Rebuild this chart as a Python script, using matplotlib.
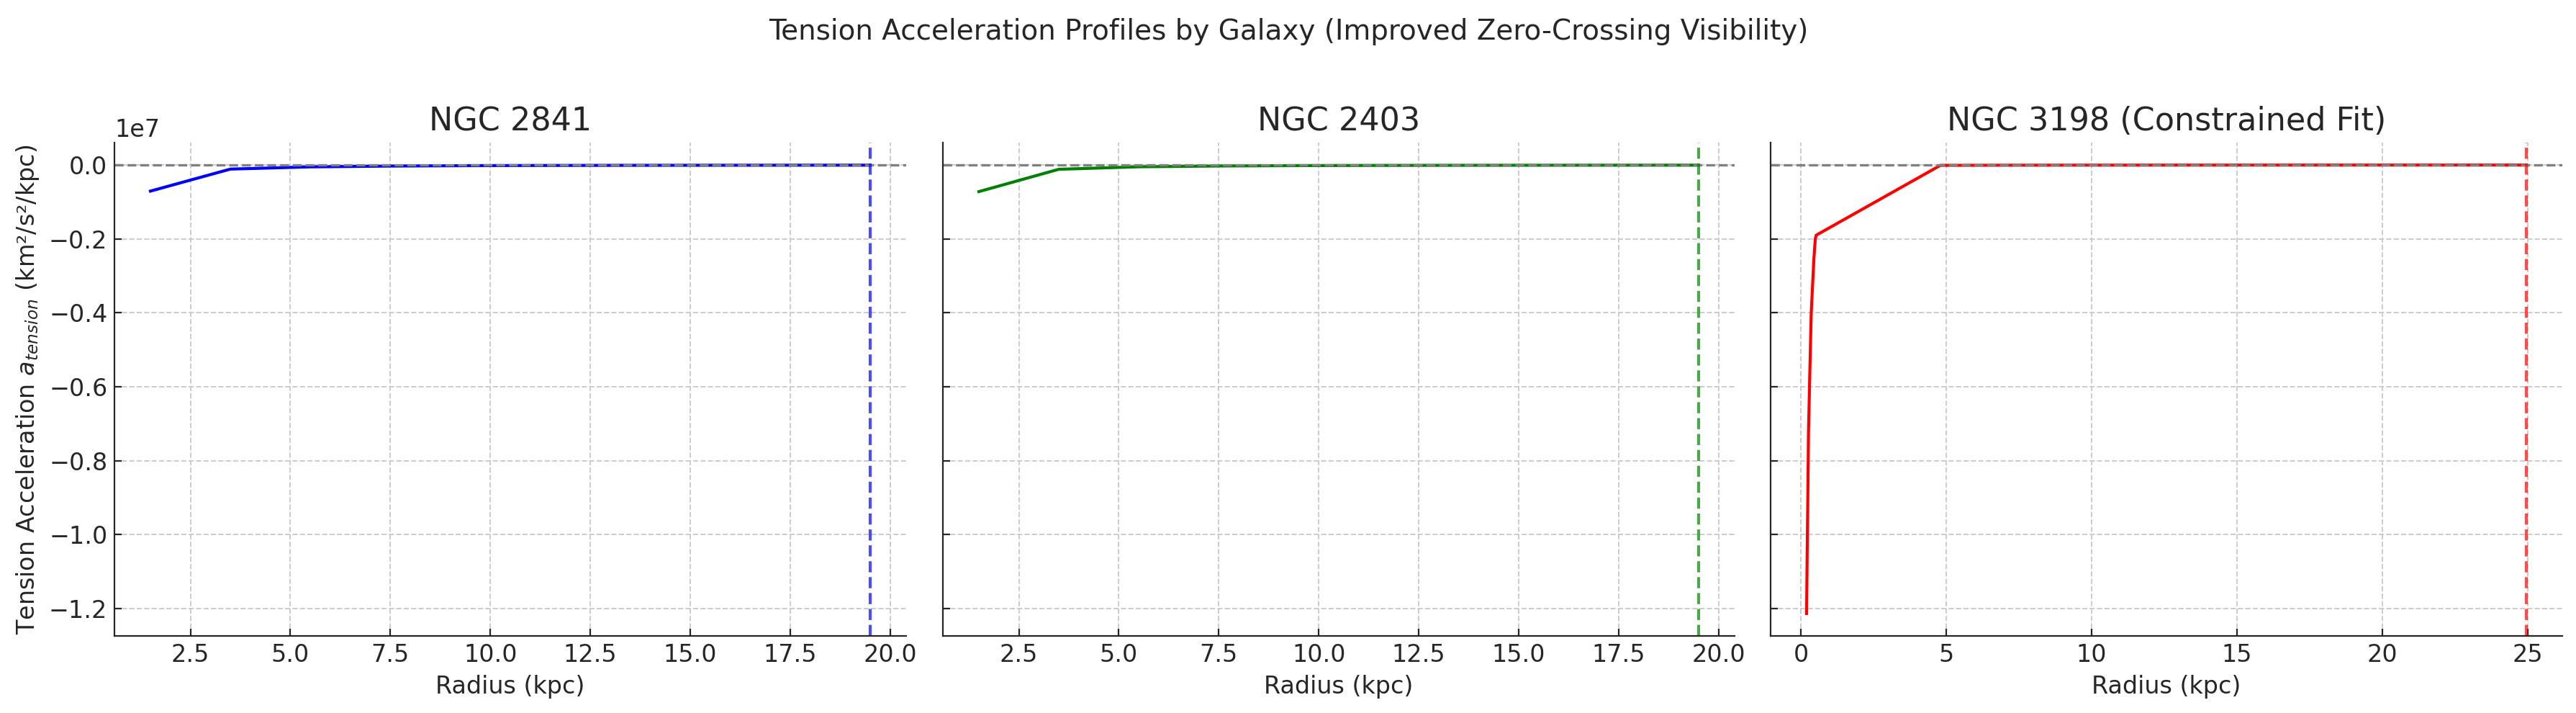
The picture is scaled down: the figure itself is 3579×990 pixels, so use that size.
import matplotlib.pyplot as plt
import numpy as np

# --- Data ---
galaxies = ['NGC 2841', 'NGC 2403', 'NGC 3198 (Constrained Fit)']
colors = ['blue', 'green', 'red']

radius_2841 = [1.5, 3.5, 5.5, 7.5, 9.5, 11.5, 13.5, 15.5, 17.5, 19.5]
accel_2841 = [-706000, -110000, -50000, -28000, -17000, -12000, -8500, -6500, -5000, -4000]

radius_2403 = [1.5, 3.5, 5.5, 7.5, 9.5, 11.5, 13.5, 15.5, 17.5, 19.5]
accel_2403 = [-720000, -115000, -48000, -26000, -16000, -11000, -8000, -6000, -4700, -3800]

radius_3198 = [0.20, 0.22, 0.24, 0.265, 0.30, 0.36, 0.45, 0.50, 0.53,
               4.80, 7.30, 9.80, 12.30, 14.80, 17.30, 19.80, 22.30, 24.95]
accel_3198 = [-12140000, -10500000, -9200000, -7250000, -6000000, -4000000,
              -2550000, -2000000, -1900000,
              -9000, -5000, -3500, -2500, -2000, -1500, -1200, -1000, -800]

# radius of the marked (dashed) line in each panel
marker_radius = [19.5, 19.5, 24.95]

radii = [radius_2841, radius_2403, radius_3198]
accels = [accel_2841, accel_2403, accel_3198]

# --- Styling ---
text_color = '#262626'
plt.rcParams['font.family'] = 'DejaVu Sans'
plt.rcParams['text.color'] = text_color
plt.rcParams['axes.labelcolor'] = text_color
plt.rcParams['xtick.color'] = text_color
plt.rcParams['ytick.color'] = text_color
plt.rcParams['axes.edgecolor'] = text_color
plt.rcParams['xtick.direction'] = 'in'
plt.rcParams['ytick.direction'] = 'in'
plt.rcParams['xtick.major.size'] = 3.5
plt.rcParams['ytick.major.size'] = 3.5

fig = plt.figure(figsize=(17.9, 4.95), dpi=200, facecolor='white')

lefts = [159 / 3580, 1310 / 3580, 2460 / 3580]
width = 1100 / 3580
bottom = 107 / 990
height = 685 / 990

axes = []
for i in range(3):
    if i == 0:
        ax = fig.add_axes([lefts[i], bottom, width, height])
    else:
        ax = fig.add_axes([lefts[i], bottom, width, height], sharey=axes[0])
    axes.append(ax)

for i, ax in enumerate(axes):
    ax.plot(radii[i], accels[i], color=colors[i], linewidth=1.5)
    ax.axhline(0, color='gray', linestyle='--', linewidth=1.2)
    ax.axvline(marker_radius[i], color=colors[i], linestyle='--', linewidth=1.5, alpha=0.7)
    ax.set_title(galaxies[i], fontsize=16, color=text_color)
    ax.set_xlabel('Radius (kpc)', fontsize=12)
    ax.grid(True, linestyle='--', linewidth=0.7, color='#cccccc')
    ax.spines['top'].set_visible(False)
    ax.spines['right'].set_visible(False)
    ax.tick_params(labelsize=12)
    if i > 0:
        ax.tick_params(labelleft=False)

axes[0].set_ylabel(r'Tension Acceleration $a_{tension}$ (km²/s²/kpc)', fontsize=12)
axes[0].yaxis.get_offset_text().set_fontsize(12)

fig.suptitle('Tension Acceleration Profiles by Galaxy (Improved Zero-Crossing Visibility)',
             fontsize=14, y=0.975, color=text_color)

fig.savefig('out.png', dpi=200, facecolor='white')
